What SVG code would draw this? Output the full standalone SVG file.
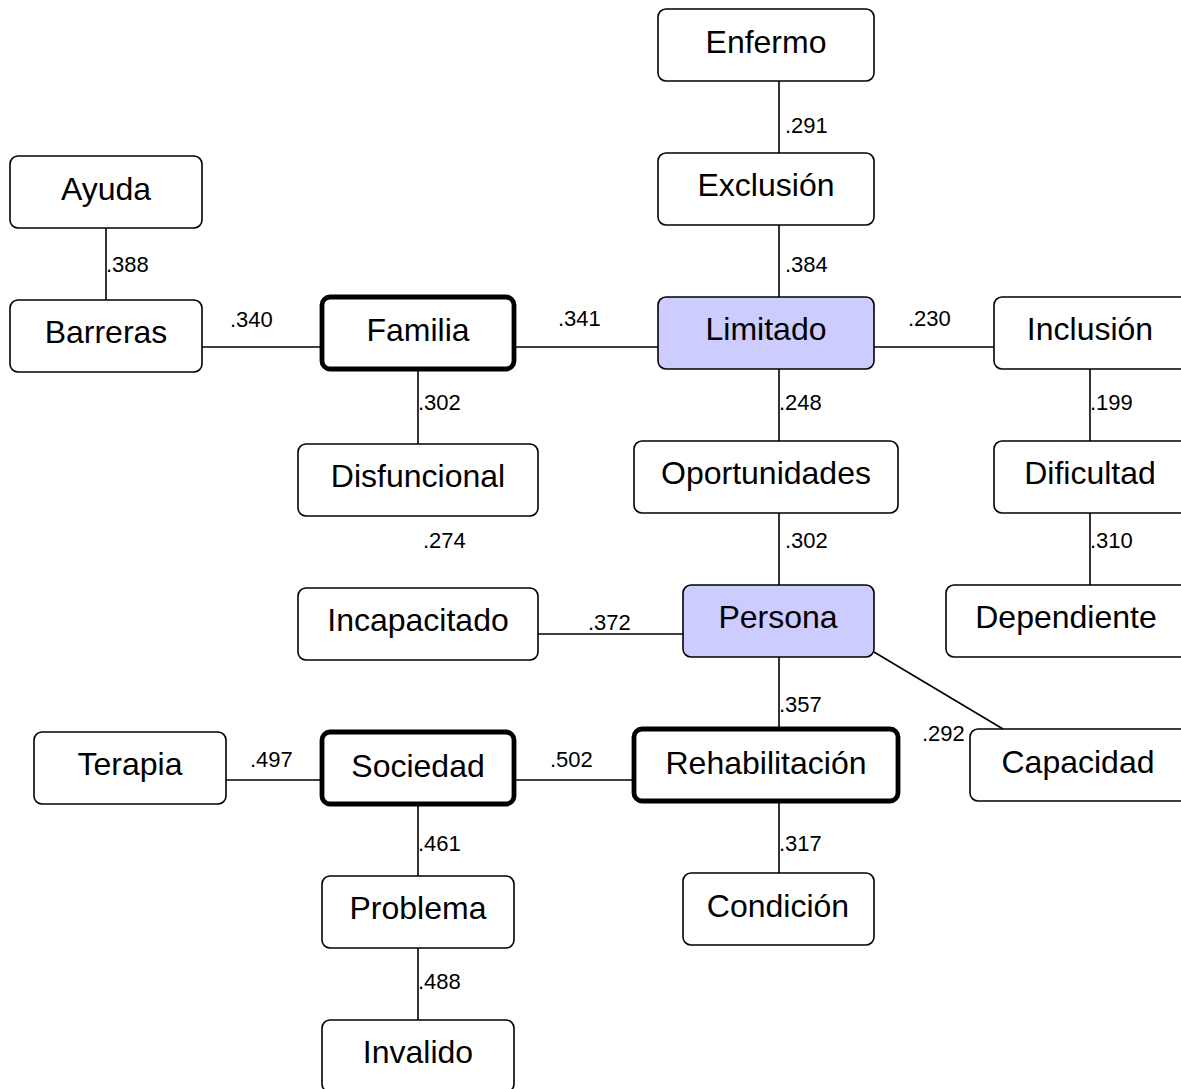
<svg xmlns="http://www.w3.org/2000/svg" width="1181" height="1089" viewBox="0 0 1181 1089">
<style>
.n rect{fill:#fff;stroke:#000;stroke-width:1.6}
.n.b rect{stroke-width:4.8}
.n.h rect{fill:#ccccff}
.n text{font-family:"Liberation Sans",Arial,sans-serif;font-size:32px;text-anchor:middle;fill:#000}
.c line{stroke:#000;stroke-width:1.6}
.l text{font-family:"Liberation Sans",Arial,sans-serif;font-size:22px;fill:#000}
</style>
<rect width="1181" height="1089" fill="#fff"/>
<g id="connectors" class="c">
<line x1="779" y1="81" x2="779" y2="153"/>
<line x1="779" y1="225" x2="779" y2="297"/>
<line x1="779" y1="369" x2="779" y2="441"/>
<line x1="779" y1="513" x2="779" y2="585"/>
<line x1="779" y1="657" x2="779" y2="729"/>
<line x1="779" y1="801" x2="779" y2="873"/>
<line x1="106" y1="228" x2="106" y2="300"/>
<line x1="202" y1="347" x2="322" y2="347"/>
<line x1="514" y1="347" x2="658" y2="347"/>
<line x1="874" y1="347" x2="994" y2="347"/>
<line x1="418" y1="369" x2="418" y2="444"/>
<line x1="1090" y1="369" x2="1090" y2="441"/>
<line x1="1090" y1="513" x2="1090" y2="585"/>
<line x1="538" y1="634" x2="683" y2="634"/>
<line x1="874" y1="652" x2="1003" y2="729"/>
<line x1="226" y1="780" x2="322" y2="780"/>
<line x1="514" y1="780" x2="634" y2="780"/>
<line x1="418" y1="804" x2="418" y2="876"/>
<line x1="418" y1="948" x2="418" y2="1020"/>
</g>
<g id="labels" class="l">
<text x="785" y="133">.291</text>
<text x="785" y="272">.384</text>
<text x="230" y="327">.340</text>
<text x="558" y="326">.341</text>
<text x="908" y="326">.230</text>
<text x="106" y="272">.388</text>
<text x="418" y="410">.302</text>
<text x="779" y="410">.248</text>
<text x="1090" y="410">.199</text>
<text x="423" y="548">.274</text>
<text x="785" y="548">.302</text>
<text x="1090" y="548">.310</text>
<text x="588" y="630">.372</text>
<text x="779" y="712">.357</text>
<text x="922" y="741">.292</text>
<text x="250" y="767">.497</text>
<text x="550" y="767">.502</text>
<text x="418" y="851">.461</text>
<text x="779" y="851">.317</text>
<text x="418" y="989">.488</text>
</g>
<g id="enfermo" class="n"><rect x="658" y="9" width="216" height="72" rx="8"/><text x="766" y="53">Enfermo</text></g>
<g id="exclusion" class="n"><rect x="658" y="153" width="216" height="72" rx="8"/><text x="766" y="196">Exclusión</text></g>
<g id="limitado" class="n h"><rect x="658" y="297" width="216" height="72" rx="8"/><text x="766" y="340">Limitado</text></g>
<g id="oportunidades" class="n"><rect x="634" y="441" width="264" height="72" rx="8"/><text x="766" y="484">Oportunidades</text></g>
<g id="persona" class="n h"><rect x="683" y="585" width="191" height="72" rx="8"/><text x="778" y="628">Persona</text></g>
<g id="rehabilitacion" class="n b"><rect x="634" y="729" width="264" height="72" rx="8"/><text x="766" y="774">Rehabilitación</text></g>
<g id="condicion" class="n"><rect x="683" y="873" width="191" height="72" rx="8"/><text x="778" y="917">Condición</text></g>
<g id="ayuda" class="n"><rect x="10" y="156" width="192" height="72" rx="8"/><text x="106" y="200">Ayuda</text></g>
<g id="barreras" class="n"><rect x="10" y="300" width="192" height="72" rx="8"/><text x="106" y="343">Barreras</text></g>
<g id="familia" class="n b"><rect x="322" y="297" width="192" height="72" rx="8"/><text x="418" y="341">Familia</text></g>
<g id="disfuncional" class="n"><rect x="298" y="444" width="240" height="72" rx="8"/><text x="418" y="487">Disfuncional</text></g>
<g id="incapacitado" class="n"><rect x="298" y="588" width="240" height="72" rx="8"/><text x="418" y="631">Incapacitado</text></g>
<g id="terapia" class="n"><rect x="34" y="732" width="192" height="72" rx="8"/><text x="130" y="775">Terapia</text></g>
<g id="sociedad" class="n b"><rect x="322" y="732" width="192" height="72" rx="8"/><text x="418" y="777">Sociedad</text></g>
<g id="problema" class="n"><rect x="322" y="876" width="192" height="72" rx="8"/><text x="418" y="919">Problema</text></g>
<g id="invalido" class="n"><rect x="322" y="1020" width="192" height="72" rx="8"/><text x="418" y="1063">Invalido</text></g>
<g id="inclusion" class="n"><rect x="994" y="297" width="196" height="72" rx="8"/><text x="1090" y="340">Inclusión</text></g>
<g id="dificultad" class="n"><rect x="994" y="441" width="196" height="72" rx="8"/><text x="1090" y="484">Dificultad</text></g>
<g id="dependiente" class="n"><rect x="946" y="585" width="244" height="72" rx="8"/><text x="1066" y="628">Dependiente</text></g>
<g id="capacidad" class="n"><rect x="970" y="729" width="220" height="72" rx="8"/><text x="1078" y="773">Capacidad</text></g>
</svg>
